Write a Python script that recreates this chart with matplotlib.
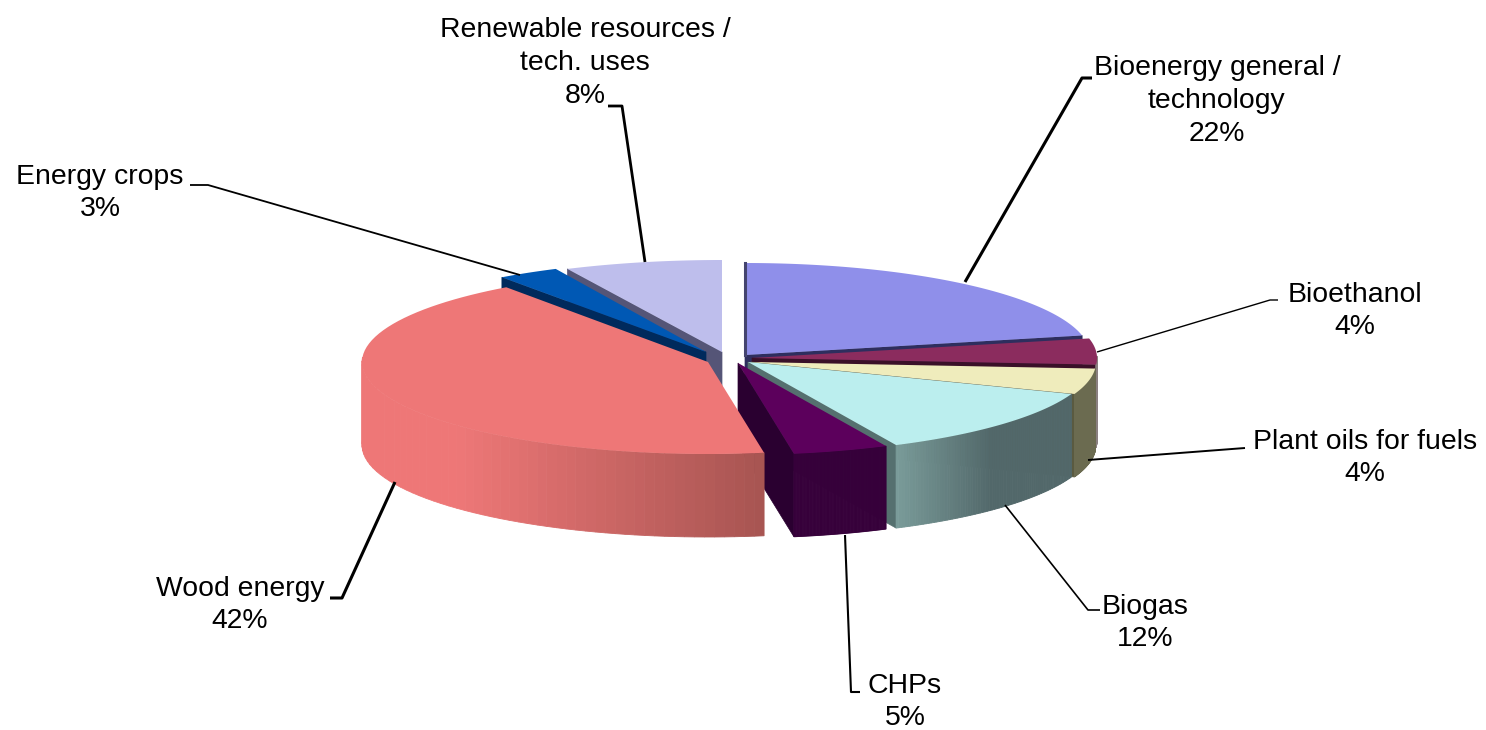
import numpy as np
import matplotlib
matplotlib.use("Agg")
import matplotlib.pyplot as plt
from matplotlib.colors import to_rgb

plt.rcParams['font.family'] = ['Liberation Sans', 'DejaVu Sans']

# data, clockwise from 12 o'clock
labels = ["Bioenergy general /\ntechnology", "Bioethanol", "Plant oils for fuels", "Biogas",
          "CHPs", "Wood energy", "Energy crops", "Renewable resources /\ntech. uses"]
values = [22, 4, 4, 12, 5, 42, 3, 8]

# styling per slice
top_colors = ['#8F8FEA', '#8B2C5E', '#EFECBC', '#BBEEEE', '#5C005C', '#EE7777', '#0058B4', '#BEBEEC']
wall_light = ['#44446F', '#8A8080', '#6B6B50', '#7A9C9A', '#36003A', '#EE7777', '#002A5C', '#555577']
wall_dark = ['#44446F', '#8A8080', '#6B6B50', '#52686A', '#36003A', '#A85552', '#002A5C', '#555577']
cut_colors = ['#2E2E5E', '#3A1028', '#5A5A40', '#55706F', '#2A0030', '#A85552', '#002A5C', '#555577']
cx = [745, 752, 751, 748, 738, 708, 706, 722]
cy = [355, 358, 362, 362, 363, 362, 352, 352]
rx = [345, 345, 345, 345, 345, 346, 350, 360]
draw_order = [7, 6, 0, 1, 2, 3, 4, 5]

# label placement and leader lines (pixels)
label_x = [1217, 1355, 1365, 1145, 905, 240, 100, 585]
label_y = [101, 311, 458, 623, 702, 605, 193, 63]
lead_x = [[965, 1082, 1092], [1097, 1270, 1278], [1088, 1245], [1005, 1088, 1100],
          [845, 851, 860], [395, 342, 330], [520, 208, 190], [645, 622, 608]]
lead_y = [[282, 78, 78], [352, 300, 300], [460, 448], [505, 610, 610],
          [535, 692, 692], [482, 598, 598], [275, 185, 185], [262, 106, 106]]
lead_w = [2.2, 1.0, 1.4, 1.2, 1.5, 2.2, 1.3, 2.0]

RY, DEPTH = 92, 83


def warp(theta):
    # squeeze angles a bit like the 3d view does
    return theta - np.radians(4) * np.sin(2 * theta)


def arc(i, a0, a1, n=80):
    t = warp(np.linspace(a0, a1, n))
    return t, cx[i] + rx[i] * np.sin(t), cy[i] - RY * np.cos(t)


fig = plt.figure(figsize=(14.86, 7.3), dpi=100)
ax = fig.add_axes([0, 0, 1, 1])
ax.set_xlim(0, 1486)
ax.set_ylim(730, 0)
ax.axis('off')

edges = np.radians(np.concatenate([[0], np.cumsum(values)]) * 3.6)

for i in draw_order:
    a0, a1 = edges[i], edges[i + 1]
    t, x, y = arc(i, a0, a1)
    light, dark = np.array(to_rgb(wall_light[i])), np.array(to_rgb(wall_dark[i]))

    # side faces that look at the viewer
    if np.sin(a0) < 0:
        ax.fill([cx[i], x[0], x[0], cx[i]], [cy[i], y[0], y[0] + DEPTH, cy[i] + DEPTH],
                color=cut_colors[i], lw=0.5)
    if np.sin(a1) > 0 and a1 < 2 * np.pi - 1e-6:
        ax.fill([cx[i], x[-1], x[-1], cx[i]], [cy[i], y[-1], y[-1] + DEPTH, cy[i] + DEPTH],
                color=cut_colors[i], lw=0.5)

    # outer wall, cut in strips for the shading
    for j in range(len(t) - 1):
        if np.cos(t[j]) > 0.02 and np.cos(t[j + 1]) > 0.02:
            continue
        f = (x[j] - x.min()) / (x.max() - x.min())
        if i == 5:
            f = max(0, (f - 0.25) / 0.75)
        elif i == 3:
            f = min(1, f / 0.55)
        col = light + (dark - light) * f
        ax.fill([x[j], x[j + 1], x[j + 1], x[j]],
                [y[j], y[j + 1], y[j + 1] + DEPTH, y[j] + DEPTH],
                color=col, lw=0.6)

    ax.fill(np.r_[cx[i], x], np.r_[cy[i], y], color=top_colors[i], lw=0)

# thin strip on the left cut of the big slice
ax.plot([cx[0], cx[0]], [cy[0] - RY, cy[0]], color=wall_dark[0], lw=2.2)

for i in range(len(values)):
    ax.plot(lead_x[i], lead_y[i], color='black', lw=lead_w[i], solid_capstyle='butt')
    txt = labels[i] + "\n%d%%" % values[i]
    ax.text(label_x[i], label_y[i], txt, ha='center', va='center',
            fontsize=20.4, color='black', linespacing=1.33)

fig.savefig('out.png', dpi=100)
